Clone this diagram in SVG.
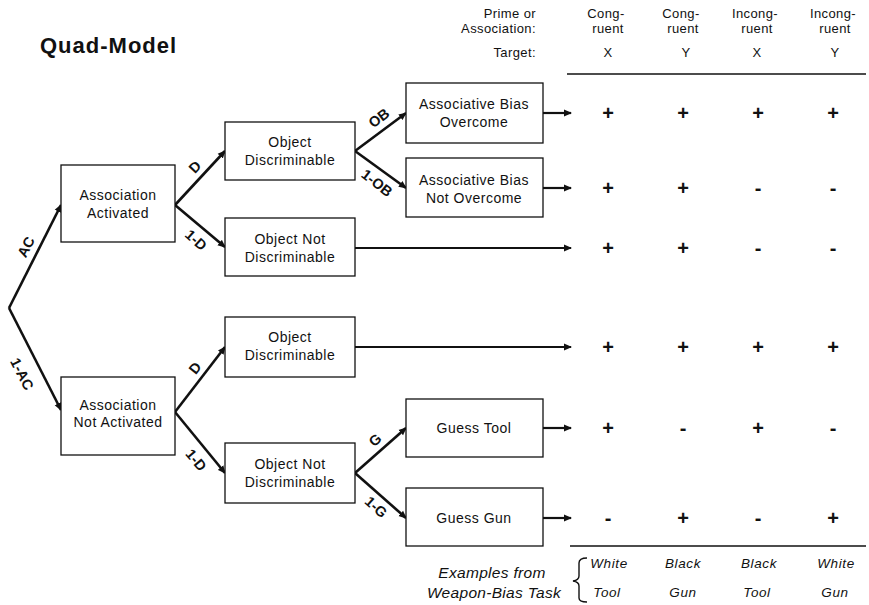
<svg xmlns="http://www.w3.org/2000/svg" width="869" height="605" viewBox="0 0 869 605">
<style>
.box{fill:#fff;stroke:#111;stroke-width:1.3}
.nt{font-family:"Liberation Sans",Arial,sans-serif;font-size:14px;letter-spacing:0.5px;fill:#111;text-anchor:middle}
.hd{font-family:"Liberation Sans",Arial,sans-serif;font-size:13px;letter-spacing:0.4px;fill:#111}
.lb{font-family:"Liberation Sans",Arial,sans-serif;font-size:14.5px;font-weight:bold;fill:#111;text-anchor:middle;dominant-baseline:central}
.br{stroke:#111;stroke-width:2.6;fill:none}
.out{stroke:#111;stroke-width:2.2;fill:none}
.sg{font-family:"Liberation Sans",Arial,sans-serif;font-size:20px;font-weight:bold;fill:#111;text-anchor:middle}
.it{font-family:"Liberation Sans",Arial,sans-serif;font-size:13.5px;letter-spacing:0.6px;font-style:italic;fill:#111;text-anchor:middle}
.ex{font-family:"Liberation Sans",Arial,sans-serif;font-size:15.5px;letter-spacing:0.3px;font-style:italic;fill:#111;text-anchor:middle}
</style>
<defs>
<marker id="ah" markerWidth="8" markerHeight="8" refX="7" refY="4" orient="auto" markerUnits="userSpaceOnUse"><path d="M0,0.5 L8,4 L0,7.5 Z" fill="#111"/></marker>
</defs>
<rect width="869" height="605" fill="#fff"/>
<text x="40" y="53" font-family="Liberation Sans,Arial,sans-serif" font-size="22" font-weight="bold" letter-spacing="1" fill="#111">Quad-Model</text>

<g id="header">
<text class="hd" x="536" y="18" text-anchor="end">Prime or</text>
<text class="hd" x="536" y="33" text-anchor="end">Association:</text>
<text class="hd" x="536" y="57" text-anchor="end">Target:</text>
<text class="hd" x="606" y="18" text-anchor="middle">Cong-</text>
<text class="hd" x="608" y="33" text-anchor="middle">ruent</text>
<text class="hd" x="681" y="18" text-anchor="middle">Cong-</text>
<text class="hd" x="683" y="33" text-anchor="middle">ruent</text>
<text class="hd" x="755" y="18" text-anchor="middle">Incong-</text>
<text class="hd" x="757" y="33" text-anchor="middle">ruent</text>
<text class="hd" x="833" y="18" text-anchor="middle">Incong-</text>
<text class="hd" x="835" y="33" text-anchor="middle">ruent</text>
<text class="hd" x="608" y="57" text-anchor="middle">X</text>
<text class="hd" x="686" y="57" text-anchor="middle">Y</text>
<text class="hd" x="757" y="57" text-anchor="middle">X</text>
<text class="hd" x="835" y="57" text-anchor="middle">Y</text>
<line x1="567" y1="74" x2="866" y2="74" stroke="#111" stroke-width="1.3"/>
</g>

<g id="connectors">
<line class="br" x1="9" y1="308" x2="61" y2="205" marker-end="url(#ah)"/>
<line class="br" x1="9" y1="308" x2="61" y2="410" marker-end="url(#ah)"/>
<line class="br" x1="175" y1="205" x2="225" y2="151" marker-end="url(#ah)"/>
<line class="br" x1="175" y1="205" x2="225" y2="247" marker-end="url(#ah)"/>
<line class="br" x1="355" y1="151" x2="406" y2="113" marker-end="url(#ah)"/>
<line class="br" x1="355" y1="151" x2="406" y2="188" marker-end="url(#ah)"/>
<line class="br" x1="175" y1="412" x2="225" y2="347" marker-end="url(#ah)"/>
<line class="br" x1="175" y1="412" x2="225" y2="473" marker-end="url(#ah)"/>
<line class="br" x1="355" y1="473" x2="406" y2="428" marker-end="url(#ah)"/>
<line class="br" x1="355" y1="473" x2="406" y2="518" marker-end="url(#ah)"/>
<line class="out" x1="543" y1="113" x2="571" y2="113" marker-end="url(#ah)"/>
<line class="out" x1="543" y1="188" x2="571" y2="188" marker-end="url(#ah)"/>
<line class="out" x1="355" y1="248" x2="571" y2="248" marker-end="url(#ah)"/>
<line class="out" x1="355" y1="347" x2="571" y2="347" marker-end="url(#ah)"/>
<line class="out" x1="543" y1="428" x2="571" y2="428" marker-end="url(#ah)"/>
<line class="out" x1="543" y1="518" x2="571" y2="518" marker-end="url(#ah)"/>
<text class="lb" transform="translate(26,247) rotate(-63)">AC</text>
<text class="lb" transform="translate(22,374) rotate(63)">1-AC</text>
<text class="lb" transform="translate(195,167) rotate(-47)">D</text>
<text class="lb" transform="translate(196,240) rotate(42)">1-D</text>
<text class="lb" transform="translate(379,118) rotate(-37)">OB</text>
<text class="lb" transform="translate(377,183) rotate(38)">1-OB</text>
<text class="lb" transform="translate(195,368) rotate(-52)">D</text>
<text class="lb" transform="translate(196,460) rotate(50)">1-D</text>
<text class="lb" transform="translate(375,440) rotate(-42)">G</text>
<text class="lb" transform="translate(376,507) rotate(42)">1-G</text>
</g>

<g id="n_assoc_act"><rect class="box" x="61" y="165" width="114" height="77"/><text class="nt" x="118" y="200">Association</text><text class="nt" x="118" y="218">Activated</text></g>
<g id="n_assoc_not"><rect class="box" x="61" y="377" width="114" height="78"/><text class="nt" x="118" y="410">Association</text><text class="nt" x="118" y="427">Not Activated</text></g>
<g id="n_od1"><rect class="box" x="225" y="122" width="130" height="58"/><text class="nt" x="290" y="147">Object</text><text class="nt" x="290" y="165">Discriminable</text></g>
<g id="n_ond1"><rect class="box" x="225" y="218" width="130" height="58"/><text class="nt" x="290" y="244">Object Not</text><text class="nt" x="290" y="262">Discriminable</text></g>
<g id="n_abo"><rect class="box" x="406" y="83" width="137" height="60"/><text class="nt" x="474" y="109">Associative Bias</text><text class="nt" x="474" y="127">Overcome</text></g>
<g id="n_abno"><rect class="box" x="406" y="158" width="137" height="59"/><text class="nt" x="474" y="185">Associative Bias</text><text class="nt" x="474" y="203">Not Overcome</text></g>
<g id="n_od2"><rect class="box" x="225" y="317" width="130" height="60"/><text class="nt" x="290" y="342">Object</text><text class="nt" x="290" y="360">Discriminable</text></g>
<g id="n_ond2"><rect class="box" x="225" y="443" width="130" height="60"/><text class="nt" x="290" y="469">Object Not</text><text class="nt" x="290" y="487">Discriminable</text></g>
<g id="n_tool"><rect class="box" x="406" y="399" width="137" height="58"/><text class="nt" x="474" y="433">Guess Tool</text></g>
<g id="n_gun"><rect class="box" x="406" y="488" width="137" height="58"/><text class="nt" x="474" y="523">Guess Gun</text></g>

<g id="signs">
<text class="sg" x="608" y="120">+</text><text class="sg" x="683" y="120">+</text><text class="sg" x="758" y="120">+</text><text class="sg" x="833" y="120">+</text>
<text class="sg" x="608" y="195">+</text><text class="sg" x="683" y="195">+</text><text class="sg" x="758" y="195">-</text><text class="sg" x="833" y="195">-</text>
<text class="sg" x="608" y="255">+</text><text class="sg" x="683" y="255">+</text><text class="sg" x="758" y="255">-</text><text class="sg" x="833" y="255">-</text>
<text class="sg" x="608" y="354">+</text><text class="sg" x="683" y="354">+</text><text class="sg" x="758" y="354">+</text><text class="sg" x="833" y="354">+</text>
<text class="sg" x="608" y="435">+</text><text class="sg" x="683" y="435">-</text><text class="sg" x="758" y="435">+</text><text class="sg" x="833" y="435">-</text>
<text class="sg" x="608" y="525">-</text><text class="sg" x="683" y="525">+</text><text class="sg" x="758" y="525">-</text><text class="sg" x="833" y="525">+</text>
</g>

<g id="examples">
<line x1="570" y1="546" x2="866" y2="546" stroke="#111" stroke-width="1.3"/>
<text class="ex" x="492" y="578">Examples from</text>
<text class="ex" x="494" y="598">Weapon-Bias Task</text>
<path d="M587,558 Q579,558 579,563 L579,576 Q579,580 573,581 Q579,582 579,586 L579,598 Q579,602 587,602" fill="none" stroke="#111" stroke-width="1.4"/>
<text class="it" x="609" y="568">White</text><text class="it" x="683" y="568">Black</text><text class="it" x="759" y="568">Black</text><text class="it" x="836" y="568">White</text>
<text class="it" x="607" y="597">Tool</text><text class="it" x="683" y="597">Gun</text><text class="it" x="757" y="597">Tool</text><text class="it" x="835" y="597">Gun</text>
</g>
</svg>
